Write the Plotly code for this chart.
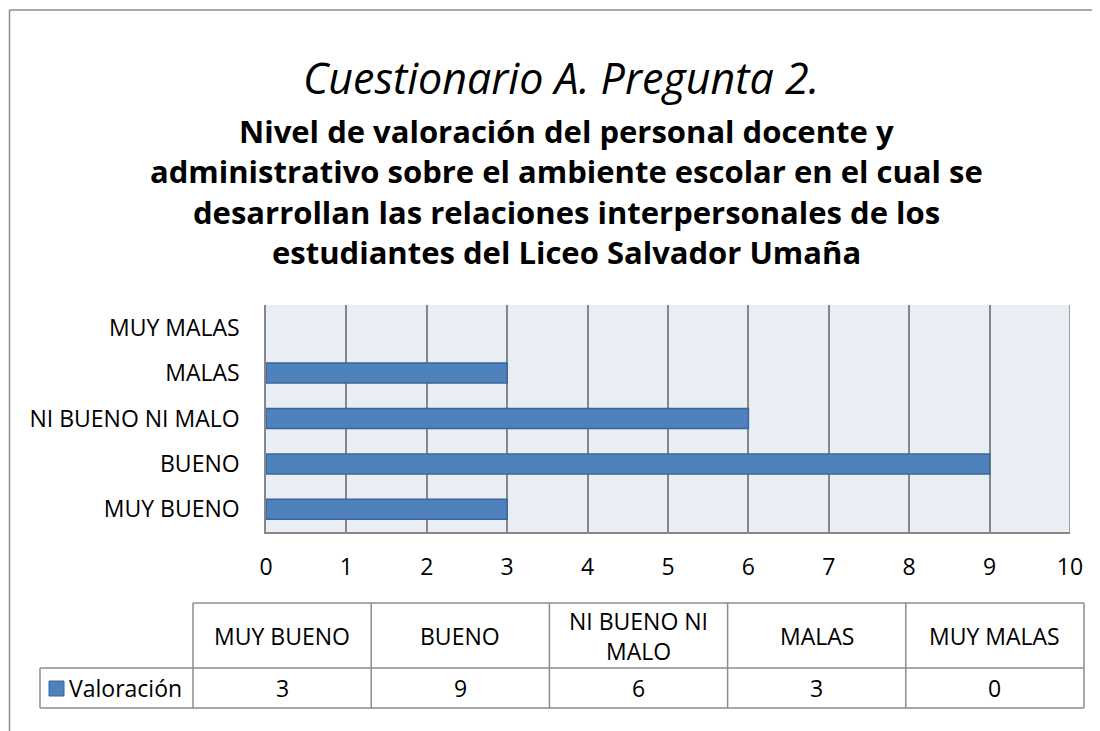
import plotly.graph_objects as go

# ---- data ----
categories = ["MUY BUENO", "BUENO", "NI BUENO NI MALO", "MALAS", "MUY MALAS"]
values = [3, 9, 6, 3, 0]
series_name = "Valoración"
x_ticks = [0, 1, 2, 3, 4, 5, 6, 7, 8, 9, 10]
title_main = "Cuestionario A. Pregunta 2."
title_sub = ["Nivel de valoración del personal docente y",
             "administrativo sobre el ambiente escolar en el cual se",
             "desarrollan las relaciones interpersonales de los",
             "estudiantes del Liceo Salvador Umaña"]

OFF = 8  # page body margin
W, H = 1100 - OFF, 731 - OFF
PX0, PX1, PY0, PY1 = 266, 1070, 305, 532  # plot area in screenshot pixels
FONT = "Open Sans, Lato, sans-serif"
BAR = "#4F81BD"
BAR_LINE = "#3B659A"
GRID = "#878787"
TS = 23


def px(x):
    return (x - PX0) / (PX1 - PX0)


def py(y):
    return (PY1 - y) / (PY1 - PY0)


def wrap(label, maxlen=12):
    words = label.split()
    lines, cur = [], ""
    for w in words:
        if cur and len(cur) + 1 + len(w) > maxlen:
            lines.append(cur)
            cur = w
        else:
            cur = (cur + " " + w).strip()
    lines.append(cur)
    return "<br>".join(lines)


fig = go.Figure()
fig.add_trace(go.Bar(
    x=values, y=categories, orientation="h", name=series_name,
    marker=dict(color=BAR, line=dict(color=BAR_LINE,
                                     width=[1.5 if v > 0 else 0 for v in values])),
    showlegend=False, hoverinfo="x+y",
))

shapes = []
annotations = []

# outer chart border: top and left edges (the frame runs past the right/bottom edges)
BL = dict(color="#8C8C8C", width=1.5)
shapes.append(dict(type="line", xref="paper", yref="paper",
                   x0=px(9.5), x1=px(1100), y0=py(10), y1=py(10), line=BL, layer="below"))
shapes.append(dict(type="line", xref="paper", yref="paper",
                   x0=px(9.5), x1=px(9.5), y0=py(10), y1=py(731), line=BL, layer="below"))

# titles
annotations.append(dict(text="<i>" + title_main + "</i>", xref="paper", yref="paper",
                        x=px(561), y=py(77), showarrow=False, xanchor="center", yanchor="middle",
                        font=dict(family=FONT, size=43, color="#000000")))
for i, line in enumerate(title_sub):
    annotations.append(dict(text="<b>" + line + "</b>", xref="paper", yref="paper",
                            x=px(566), y=py(131 + 40.3 * i), showarrow=False,
                            xanchor="center", yanchor="middle",
                            font=dict(family=FONT, size=31, color="#000000")))

# data table
col_x0 = 193
col_w = (1084 - 193) / len(categories)
row_top, row_mid, row_bot = 603, 668, 708
leg_x0 = 40
TL = dict(color="#8C8C8C", width=1.5)
shapes.append(dict(type="line", xref="paper", yref="paper", x0=px(col_x0), x1=px(1084),
                   y0=py(row_top), y1=py(row_top), line=TL))
shapes.append(dict(type="line", xref="paper", yref="paper", x0=px(leg_x0), x1=px(1084),
                   y0=py(row_mid), y1=py(row_mid), line=TL))
shapes.append(dict(type="line", xref="paper", yref="paper", x0=px(leg_x0), x1=px(1084),
                   y0=py(row_bot), y1=py(row_bot), line=TL))
shapes.append(dict(type="line", xref="paper", yref="paper", x0=px(leg_x0), x1=px(leg_x0),
                   y0=py(row_mid), y1=py(row_bot), line=TL))
for i in range(len(categories) + 1):
    xx = col_x0 + i * col_w
    shapes.append(dict(type="line", xref="paper", yref="paper", x0=px(xx), x1=px(xx),
                       y0=py(row_top), y1=py(row_bot), line=TL))
for i, (cat, val) in enumerate(zip(categories, values)):
    cx = col_x0 + (i + 0.5) * col_w
    annotations.append(dict(text=wrap(cat), xref="paper", yref="paper", x=px(cx),
                            y=py((row_top + row_mid) / 2), showarrow=False,
                            xanchor="center", yanchor="middle", align="center",
                            font=dict(family=FONT, size=TS, color="#000000")))
    annotations.append(dict(text=str(val), xref="paper", yref="paper", x=px(cx),
                            y=py((row_mid + row_bot) / 2), showarrow=False,
                            xanchor="center", yanchor="middle",
                            font=dict(family=FONT, size=TS, color="#000000")))
# legend key
shapes.append(dict(type="rect", xref="paper", yref="paper", x0=px(49), x1=px(64),
                   y0=py(681), y1=py(696), fillcolor=BAR,
                   line=dict(color=BAR_LINE, width=1)))
annotations.append(dict(text=series_name, xref="paper", yref="paper", x=px(67),
                        y=py((row_mid + row_bot) / 2), showarrow=False,
                        xanchor="left", yanchor="middle",
                        font=dict(family=FONT, size=TS, color="#000000")))

fig.update_layout(
    width=W, height=H,
    margin=dict(l=PX0 - OFF, r=(W + OFF) - PX1, t=PY0 - OFF, b=(H + OFF) - PY1, pad=0),
    paper_bgcolor="#FFFFFF", plot_bgcolor="#E9EDF4",
    bargap=0.56,
    font=dict(family=FONT, size=TS, color="#000000"),
    shapes=shapes, annotations=annotations,
    xaxis=dict(range=[0, 10], tickvals=x_ticks, showgrid=True, gridcolor=GRID, gridwidth=1.5,
               zeroline=False, showline=True, linecolor=GRID, linewidth=1.5, mirror=False,
               ticks="", ticklabelstandoff=14, tickfont=dict(size=TS), fixedrange=True),
    yaxis=dict(categoryorder="array", categoryarray=categories, showgrid=False,
               showline=True, linecolor=GRID, linewidth=1.5, ticks="",
               ticklabelstandoff=20, tickfont=dict(size=TS), fixedrange=True),
)
# right border line of plot area (the 10 gridline)
fig.add_shape(type="line", xref="x", yref="paper", x0=10, x1=10, y0=0, y1=1,
              line=dict(color=GRID, width=1.5))

fig.write_html("out.html")
